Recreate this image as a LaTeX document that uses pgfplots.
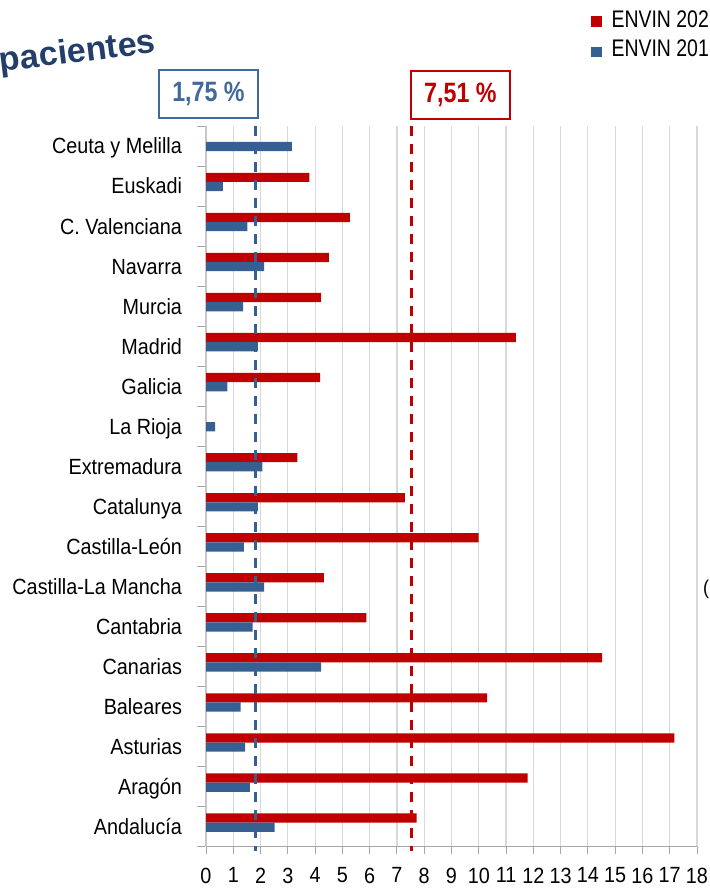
\documentclass[border=0pt]{standalone}
\usepackage{pgfplots}
\pgfplotsset{compat=1.18}
\usepackage{fontspec}
\setmainfont{Liberation Sans}[FakeStretch=0.9]
\newfontfamily\narrowfont{Liberation Sans}[FakeStretch=0.83]
\newfontfamily\legendfont{Liberation Sans}[FakeStretch=0.81]
\newfontfamily\titlefont{Liberation Sans}

\definecolor{envred}{RGB}{192,0,0}
\definecolor{envblue}{RGB}{54,96,146}
\definecolor{boxblue}{RGB}{65,105,155}
\definecolor{titleblue}{RGB}{35,62,105}
\definecolor{gridgray}{RGB}{217,217,217}
\definecolor{axgray}{RGB}{166,166,166}

\begin{document}
\begin{tikzpicture}
% 1 px of the reference = 0.5pt, origin at the top left corner
\useasboundingbox (0,0) rectangle (355pt,-444pt);
\clip (0,0) rectangle (355pt,-444pt);

\begin{axis}[
    at={(103pt,-423.35pt)}, anchor=south west,
    scale only axis,
    width=245.5pt, height=360.35pt,
    xbar, bar width=4.6pt,
    xmin=0, xmax=18, ymin=-0.5, ymax=17.5,
    clip=false,
    axis x line*=bottom, axis y line*=left,
    x axis line style={-, draw=axgray, line width=0.6pt},
    y axis line style={-, draw=gridgray!80!gray, line width=1pt},
    xtick={0,1,...,18},
    tick align=outside,
    major x tick style={draw=axgray, line width=0.5pt},
    major tick length=3.5pt,
    xmajorgrids,
    grid style={draw=gridgray, line width=0.6pt},
    ytick={0,1,...,17},
    yticklabels={Andalucía, Aragón, Asturias, Baleares, Canarias, Cantabria,
        Castilla-La Mancha, Castilla-León, Catalunya, Extremadura, La Rioja,
        Galicia, Madrid, Murcia, Navarra, C. Valenciana, Euskadi, Ceuta y Melilla},
    major y tick style={draw=none},
    minor ytick={-0.5,0.5,...,17.5},
    minor y tick style={draw=axgray, line width=0.5pt},
    minor tick length=4.35pt,
    ticklabel style={font=\fontsize{11}{13}\selectfont, text=black},
    /pgf/number format/assume math mode=true,
    yticklabel style={xshift=-5pt, text height=7.9pt, text depth=0pt},
    xticklabel style={yshift=-3.5pt},
]
% ENVIN (red)
\addplot[fill=envred, draw=none, bar shift=4.35pt] coordinates {
    (7.72,0) (11.79,1) (17.17,2) (10.31,3) (14.52,4) (5.88,5)
    (4.32,6) (9.99,7) (7.29,8) (3.35,9) (4.18,11) (11.36,12)
    (4.22,13) (4.50,14) (5.27,15) (3.79,16)
};
% ENVIN (blue)
\addplot[fill=envblue, draw=none, bar shift=-0.25pt] coordinates {
    (2.52,0) (1.61,1) (1.43,2) (1.27,3) (4.22,4) (1.71,5)
    (2.13,6) (1.39,7) (1.90,8) (2.07,9) (0.33,10) (0.78,11)
    (1.90,12) (1.36,13) (2.13,14) (1.52,15) (0.62,16) (3.15,17)
};
% mean lines
\addplot[sharp plot, no marks, draw=envred, line width=1.5pt, dash pattern=on 5pt off 4pt]
    coordinates {(7.52,17.5) (7.52,-0.61)};
\addplot[sharp plot, no marks, draw=envblue, line width=1.5pt, dash pattern=on 5pt off 4pt]
    coordinates {(1.83,17.5) (1.83,-0.61)};
\end{axis}

% boxes with the means
\draw[boxblue, line width=0.9pt] (79.35pt,-35pt) rectangle (129.15pt,-59.15pt);
\node[text=boxblue, font=\narrowfont\bfseries\fontsize{14}{16}\selectfont] at (104.25pt,-47pt) {1,75 \%};
\draw[envred, line width=0.9pt] (205.35pt,-35.35pt) rectangle (255pt,-59.5pt);
\node[text=envred, font=\narrowfont\bfseries\fontsize{14}{16}\selectfont] at (230.2pt,-47.5pt) {7,51 \%};

% legend (at the right edge)
\fill[envred] (295.35pt,-8pt) rectangle (300.85pt,-13.35pt);
\node[anchor=base west, inner sep=0pt, font=\legendfont\fontsize{12}{14}\selectfont] at (305.6pt,-13.65pt) {ENVIN 202};
\fill[envblue] (295.35pt,-23.35pt) rectangle (300.85pt,-28.35pt);
\node[anchor=base west, inner sep=0pt, font=\legendfont\fontsize{12}{14}\selectfont] at (305.6pt,-28.35pt) {ENVIN 201};

% title fragment
\node[anchor=base east, inner sep=0pt, rotate=7, text=titleblue,
      font=\titlefont\bfseries\fontsize{17}{19}\selectfont] at (78.5pt,-26.3pt) {pacientes};
\node[anchor=east, inner sep=0.3pt, font=\fontsize{10}{12}\selectfont] at (355pt,-294.5pt) {(};
\end{tikzpicture}
\end{document}
